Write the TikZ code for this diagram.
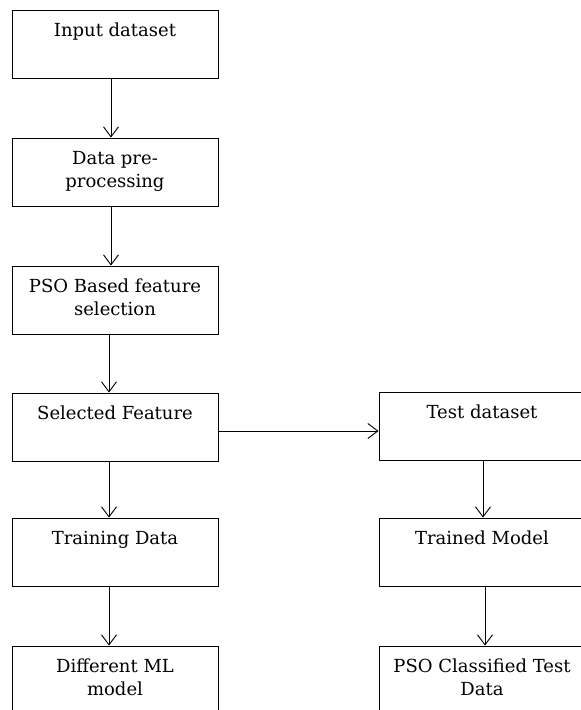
\documentclass[tikz,border=0pt]{standalone}
\usepackage{fontspec}
\setmainfont{DejaVu Serif}
\usetikzlibrary{arrows.meta}
\tikzset{
  box/.style={draw, line width=0.9pt, minimum width=206pt, minimum height=68pt,
    inner xsep=6pt, inner ysep=13pt, font=\fontsize{18}{23}\selectfont,
    execute at begin node={\begin{minipage}[c][42pt][t]{194pt}\centering},
    execute at end node={\end{minipage}}},
  arr/.style={-{Straight Barb[length=10pt,width=15pt,line width=0.9pt]}, line width=0.9pt}
}
\begin{document}
\begin{tikzpicture}[x=1pt,y=-1pt]
\useasboundingbox (0,0) rectangle (581,710);
\node[box] (input) at (115,44) {Input dataset};
\node[box] (prep) at (115,172) {Data pre-\\processing};
\node[box] (pso) at (115,300) {PSO Based feature\\selection};
\node[box] (sel) at (115,427) {Selected Feature};
\node[box] (train) at (115,552) {Training Data};
\node[box] (ml) at (115,680) {Different ML\\model};
\node[box] (test) at (482,426) {Test dataset};
\node[box] (trained) at (482,552) {Trained Model};
\node[box] (cls) at (482,680) {PSO Classified Test\\Data};
\draw[arr] ([xshift=-4pt]input.south) -- ([xshift=-4pt]prep.north);
\draw[arr] ([xshift=-4pt]prep.south) -- ([xshift=-4pt]pso.north);
\draw[arr] ([xshift=-6pt]pso.south) -- ([xshift=-6pt]sel.north);
\draw[arr] ([xshift=-6pt]sel.south) -- ([xshift=-6pt]train.north);
\draw[arr] ([xshift=-6pt]train.south) -- ([xshift=-6pt]ml.north);
\draw[arr] ([yshift=-4pt]sel.east) -- ([yshift=-4pt]sel.east -| test.west);
\draw[arr] ([xshift=1pt]test.south) -- ([xshift=1pt]trained.north);
\draw[arr] ([xshift=3pt]trained.south) -- ([xshift=3pt]cls.north);
\end{tikzpicture}
\end{document}
